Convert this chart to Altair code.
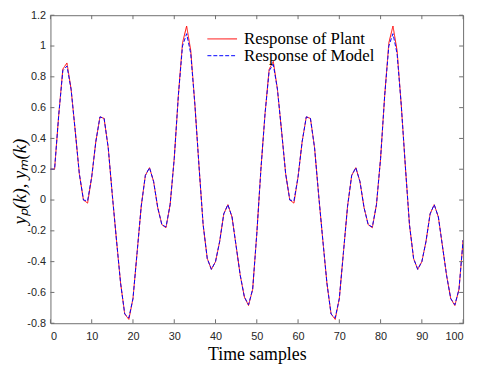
import altair as alt
import pandas as pd

# ---- data ----
k = list(range(101))
plant = [
    0.20, 0.20, 0.55, 0.85, 0.89, 0.72, 0.45, 0.17, 0.00, -0.02,
    0.15, 0.38, 0.54, 0.53, 0.34, 0.03, -0.26, -0.54, -0.74, -0.775,
    -0.64, -0.34, -0.04, 0.16, 0.21, 0.12, -0.05, -0.16, -0.18, -0.03,
    0.27, 0.68, 1.02, 1.13, 0.97, 0.62, 0.22, -0.16, -0.38, -0.45,
    -0.40, -0.27, -0.09, -0.03, -0.11, -0.30, -0.49, -0.63, -0.685, -0.58,
    -0.22, 0.20, 0.56, 0.85, 0.90, 0.72, 0.45, 0.17, 0.00, -0.02,
    0.15, 0.38, 0.54, 0.53, 0.34, 0.03, -0.26, -0.54, -0.74, -0.775,
    -0.64, -0.34, -0.04, 0.16, 0.21, 0.12, -0.05, -0.16, -0.18, -0.03,
    0.27, 0.68, 1.02, 1.13, 0.97, 0.62, 0.22, -0.16, -0.38, -0.45,
    -0.40, -0.27, -0.09, -0.03, -0.11, -0.30, -0.49, -0.64, -0.685, -0.58,
    -0.26,
]
model = [
    0.20, 0.20, 0.55, 0.84, 0.87, 0.72, 0.45, 0.17, 0.00, -0.005,
    0.15, 0.38, 0.54, 0.53, 0.34, 0.03, -0.26, -0.54, -0.74, -0.765,
    -0.64, -0.34, -0.04, 0.16, 0.21, 0.12, -0.05, -0.16, -0.175, -0.03,
    0.27, 0.68, 1.00, 1.08, 0.95, 0.62, 0.22, -0.16, -0.38, -0.45,
    -0.40, -0.27, -0.09, -0.03, -0.11, -0.30, -0.49, -0.63, -0.68, -0.58,
    -0.22, 0.20, 0.56, 0.84, 0.88, 0.72, 0.45, 0.17, 0.00, -0.005,
    0.15, 0.38, 0.54, 0.53, 0.34, 0.03, -0.26, -0.54, -0.74, -0.765,
    -0.64, -0.34, -0.04, 0.16, 0.21, 0.12, -0.05, -0.16, -0.175, -0.03,
    0.27, 0.68, 1.00, 1.08, 0.95, 0.62, 0.22, -0.16, -0.38, -0.45,
    -0.40, -0.27, -0.09, -0.03, -0.11, -0.30, -0.49, -0.64, -0.68, -0.58,
    -0.26,
]
series_names = ["Response of Plant", "Response of Model"]
series_colors = ["#ff0000", "#0000ff"]
series_dash = [[1, 0], [4, 2]]
x_ticks = [0, 10, 20, 30, 40, 50, 60, 70, 80, 90, 100]
y_ticks = [-0.8, -0.6, -0.4, -0.2, 0, 0.2, 0.4, 0.6, 0.8, 1, 1.2]

xt = pd.DataFrame({"t": x_ticks})
yt = pd.DataFrame({"t": y_ticks})

W, H = 418, 312
frame = "#6e6e6e"

xscale = alt.Scale(domain=[0, 100], nice=False, zero=False)
yscale = alt.Scale(domain=[-0.8, 1.2], nice=False, zero=False)
x_axis = alt.Axis(values=x_ticks, title="Time samples", labelPadding=7, titlePadding=5,
                  titleFontSize=18)
y_axis = alt.Axis(values=y_ticks, title="yₚ(k), yₘ(k)", titleFontStyle="italic",
                  titleFontSize=19, labelPadding=5,
                  titleX=-31, titleY=168, titleAngle=270, titleAlign="center",
                  titleBaseline="middle",
                  labelExpr="replace(format(datum.value, '~g'), '\u2212', '-')")

layers = []
for name, values, col, dash in zip(series_names, [plant, model], series_colors, series_dash):
    d = pd.DataFrame({"k": k, "y": values})
    layers.append(
        alt.Chart(d).mark_line(strokeWidth=1, clip=True, color=col, strokeDash=dash).encode(
            x=alt.X("k:Q", scale=xscale, axis=x_axis),
            y=alt.Y("y:Q", scale=yscale, axis=y_axis),
        )
    )

tick_len = 4
def xtick(y0, y1):
    return alt.Chart(xt).mark_rule(color=frame, strokeWidth=1).encode(
        x=alt.X("t:Q", scale=xscale, axis=x_axis), y=alt.value(y0), y2=alt.value(y1))
def ytick(x0, x1):
    return alt.Chart(yt).mark_rule(color=frame, strokeWidth=1).encode(
        y=alt.Y("t:Q", scale=yscale, axis=y_axis), x=alt.value(x0), x2=alt.value(x1))

layers += [xtick(H, H - tick_len), xtick(0, tick_len), ytick(0, tick_len), ytick(W, W - tick_len)]

# legend (no box, drawn inside the plot)
leg_x0, leg_len, leg_y0, leg_dy = 159, 30, 24, 17
for i, (name, col, dash) in enumerate(zip(series_names, series_colors, series_dash)):
    ld = pd.DataFrame({"label": [name]})
    yy = leg_y0 + i * leg_dy
    layers.append(alt.Chart(ld).mark_rule(color=col, strokeWidth=1, strokeDash=dash).encode(
        x=alt.value(leg_x0), x2=alt.value(leg_x0 + leg_len), y=alt.value(yy)))
    layers.append(alt.Chart(ld).mark_text(
        align="left", baseline="middle", font="Liberation Serif", fontSize=17, color="#000000"
    ).encode(x=alt.value(leg_x0 + leg_len + 7), y=alt.value(yy), text="label:N"))

chart = alt.layer(*layers).properties(
    width=W, height=H,
    autosize=alt.AutoSizeParams(type="none"),
    padding={"left": 43, "top": 5, "right": 9, "bottom": 41},
    background="white",
).configure_view(
    stroke=frame, strokeWidth=1,
).configure_axis(
    grid=False, ticks=False, domain=False,
    labelFont="Liberation Sans", labelFontSize=11, labelColor="#262626",
    titleFont="Liberation Serif", titleFontSize=17, titleFontWeight="normal",
    titleColor="#000000",
)

chart.save("out.html", embed_options={"renderer": "svg", "actions": False})
